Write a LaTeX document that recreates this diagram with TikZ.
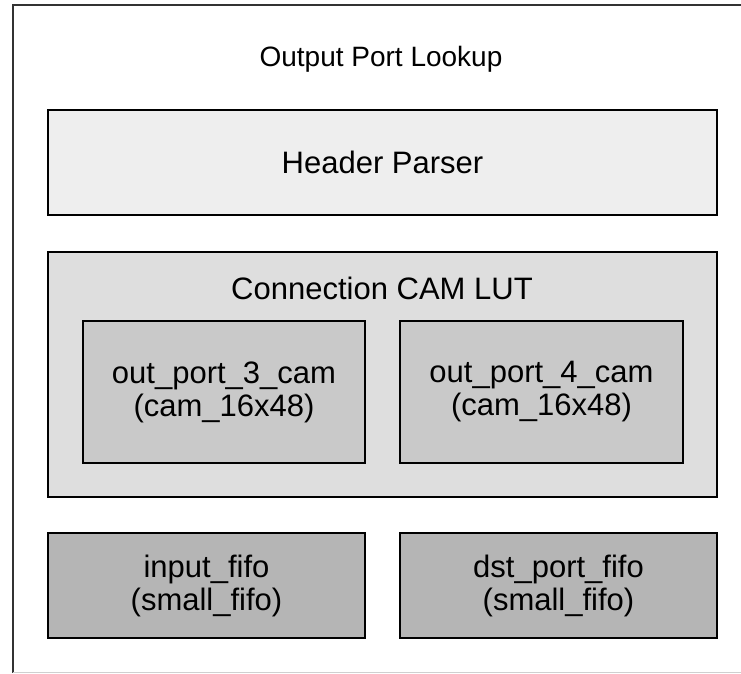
\documentclass[tikz,border=0pt]{standalone}
\usepackage{fontspec}
\setmainfont{Liberation Sans}
\definecolor{framecol}{HTML}{333333}
\definecolor{edgecol}{HTML}{D0D0D0}
\definecolor{hdrfill}{HTML}{EEEEEE}
\definecolor{lutfill}{HTML}{DEDEDE}
\definecolor{camfill}{HTML}{C9C9C9}
\definecolor{fifofill}{HTML}{B5B5B5}
\begin{document}
\begin{tikzpicture}[x=1pt,y=-1pt,
  txt/.style={font=\fontsize{31}{33}\selectfont, inner sep=0pt, align=center},
  blk/.style={draw=black, line width=2pt, rectangle, inner sep=0pt, txt},
  hdrbox/.style={blk, fill=hdrfill},
  lutbox/.style={blk, fill=lutfill},
  cambox/.style={blk, fill=camfill},
  fifobox/.style={blk, fill=fifofill}]
\useasboundingbox (0,0) rectangle (741,673);

% enclosing module frame: left and top edges; the rest runs off the page
\draw[framecol, line width=2pt] (741,5) -- (12.5,5) -- (12.5,673);
\draw[edgecol, line width=1pt] (12.5,672.5) -- (741,672.5);

\node[txt, font=\fontsize{28}{30}\selectfont, anchor=base] (title) at (381,66) {Output Port Lookup};

\node[hdrbox, minimum width=669pt, minimum height=105pt] (hp) at (382.5,162.5) {Header Parser};

\node[lutbox, minimum width=669pt, minimum height=245pt] (lut) at (382.5,374.5) {};
\node[txt, anchor=base] (luttitle) at (382,299) {Connection CAM LUT};

\node[cambox, minimum width=282pt, minimum height=142pt] (cam3) at (224,392) {out\_port\_3\_cam\\(cam\_16x48)};
\node[cambox, minimum width=283pt, minimum height=142pt] (cam4) at (541.5,392) {out\_port\_4\_cam\\(cam\_16x48)};

\node[fifobox, minimum width=317pt, minimum height=105pt] (infifo) at (206.5,585.5) {input\_fifo\\(small\_fifo)};
\node[fifobox, minimum width=317pt, minimum height=105pt] (dstfifo) at (558.5,585.5) {dst\_port\_fifo\\(small\_fifo)};
\end{tikzpicture}
\end{document}
